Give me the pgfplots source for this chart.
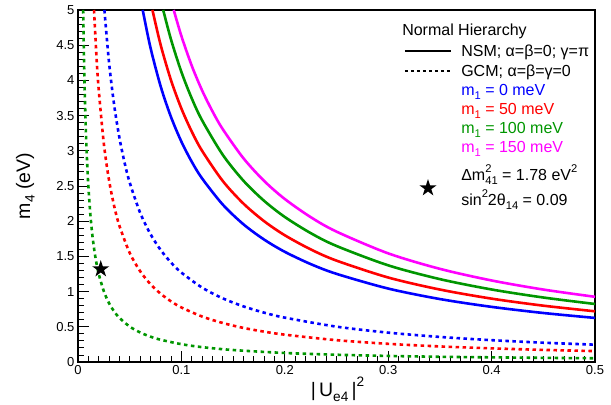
\documentclass[border=0pt]{standalone}
\usepackage{fontspec}
\setmainfont{Liberation Sans}
\usepackage{pgfplots}
\pgfplotsset{compat=1.18}

\definecolor{rblue}{RGB}{0,0,255}
\definecolor{rred}{RGB}{255,0,0}
\definecolor{rgreen}{RGB}{0,150,0}
\definecolor{rmag}{RGB}{255,0,255}

\newcommand{\sub}[1]{\raisebox{-0.45ex}{\scalebox{0.7}{#1}}}
\newcommand{\sups}[1]{\raisebox{0.95ex}{\scalebox{0.7}{#1}}}
\newcommand{\legfont}{\fontsize{16}{18}\selectfont}

% filled five-pointed star
\pgfdeclareplotmark{fstar}{%
  \pgfpathmoveto{\pgfpointpolar{90}{\pgfplotmarksize}}%
  \pgfpathlineto{\pgfpointpolar{126}{0.382*\pgfplotmarksize}}%
  \pgfpathlineto{\pgfpointpolar{162}{\pgfplotmarksize}}%
  \pgfpathlineto{\pgfpointpolar{198}{0.382*\pgfplotmarksize}}%
  \pgfpathlineto{\pgfpointpolar{234}{\pgfplotmarksize}}%
  \pgfpathlineto{\pgfpointpolar{270}{0.382*\pgfplotmarksize}}%
  \pgfpathlineto{\pgfpointpolar{306}{\pgfplotmarksize}}%
  \pgfpathlineto{\pgfpointpolar{342}{0.382*\pgfplotmarksize}}%
  \pgfpathlineto{\pgfpointpolar{18}{\pgfplotmarksize}}%
  \pgfpathlineto{\pgfpointpolar{54}{0.382*\pgfplotmarksize}}%
  \pgfpathclose
  \pgfusepathqfill}

\begin{document}
\begin{tikzpicture}
\begin{axis}[
  scale only axis,
  width=517pt, height=352pt,
  xmin=0, xmax=0.5, ymin=0, ymax=5,
  xtick={0,0.1,0.2,0.3,0.4,0.5},
  ytick={0,0.5,1,1.5,2,2.5,3,3.5,4,4.5,5},
  minor x tick num=9,
  minor y tick num=4,
  tick pos=left,
  tick align=inside,
  major tick length=11pt,
  minor tick length=6pt,
  every tick/.style={black, line width=0.9pt},
  axis line style={line width=1.5pt},
  /pgf/number format/assume math mode=true,
  tick label style={font=\fontsize{13}{13}\selectfont},
  xlabel={|\,U\sub{e4}\,|\sups{2}},
  ylabel={m\sub{4} (eV)},
  xlabel style={font=\fontsize{19.5}{20}\selectfont, at={(axis description cs:0.502,-0.077)}, anchor=center},
  ylabel style={font=\fontsize{19.5}{20}\selectfont, at={(axis description cs:-0.102,0.5)}, anchor=center},
  every axis plot/.style={line width=2.6pt, smooth},
  clip=true,
]

% NSM, solid
\addplot[rblue] coordinates {
  (0.0626,5.0) (0.07,4.471) (0.08,3.913) (0.09,3.478) (0.1,3.13) (0.11,2.845)
  (0.12,2.608) (0.14,2.236) (0.16,1.956) (0.18,1.739) (0.2,1.565) (0.225,1.391)
  (0.25,1.252) (0.3,1.043) (0.35,0.894) (0.4,0.783) (0.45,0.696) (0.5,0.626)
};
\addplot[rred] coordinates {
  (0.072,5.0) (0.08,4.5) (0.09,4.0) (0.1,3.6) (0.11,3.273) (0.12,3.0)
  (0.14,2.571) (0.16,2.25) (0.18,2.0) (0.2,1.8) (0.225,1.6) (0.25,1.44)
  (0.3,1.2) (0.35,1.029) (0.4,0.9) (0.45,0.8) (0.5,0.72)
};
\addplot[rgreen] coordinates {
  (0.0824,5.0) (0.09,4.578) (0.1,4.12) (0.11,3.745) (0.12,3.433) (0.14,2.943)
  (0.16,2.575) (0.18,2.289) (0.2,2.06) (0.225,1.831) (0.25,1.648) (0.3,1.373)
  (0.35,1.177) (0.4,1.03) (0.45,0.916) (0.5,0.824)
};
\addplot[rmag] coordinates {
  (0.0926,5.0) (0.1,4.63) (0.11,4.209) (0.12,3.858) (0.13,3.562) (0.14,3.307)
  (0.16,2.894) (0.18,2.572) (0.2,2.315) (0.225,2.058) (0.25,1.852) (0.3,1.543)
  (0.35,1.323) (0.4,1.158) (0.45,1.029) (0.5,0.926)
};

% GCM, dotted
\addplot[rblue, dash pattern=on 3.5pt off 3.5pt] coordinates {
  (0.02555,5.0) (0.03,4.257) (0.035,3.647) (0.04,3.19) (0.045,2.834) (0.05,2.55)
  (0.06,2.123) (0.07,1.819) (0.08,1.59) (0.09,1.412) (0.1,1.27) (0.12,1.057)
  (0.14,0.904) (0.16,0.79) (0.18,0.701) (0.2,0.63) (0.25,0.502) (0.3,0.417)
  (0.35,0.356) (0.4,0.31) (0.45,0.274) (0.5,0.246)
};
\addplot[rred, dash pattern=on 3.5pt off 3.5pt] coordinates {
  (0.0155,5.0) (0.018,4.306) (0.02,3.875) (0.025,3.1) (0.03,2.583) (0.035,2.214)
  (0.04,1.938) (0.05,1.55) (0.06,1.292) (0.07,1.107) (0.08,0.969) (0.09,0.861)
  (0.1,0.775) (0.12,0.646) (0.14,0.554) (0.16,0.484) (0.18,0.431) (0.2,0.388)
  (0.25,0.31) (0.3,0.258) (0.35,0.221) (0.4,0.194) (0.45,0.172) (0.5,0.155)
};
\addplot[rgreen, dash pattern=on 3.5pt off 3.5pt] coordinates {
  (0.005,5.0) (0.006,4.17) (0.007,3.574) (0.008,3.128) (0.009,2.781) (0.01,2.503)
  (0.012,2.086) (0.014,1.789) (0.016,1.566) (0.018,1.392) (0.02,1.253) (0.025,1.003)
  (0.03,0.836) (0.035,0.717) (0.04,0.628) (0.05,0.503) (0.06,0.42) (0.07,0.36)
  (0.08,0.316) (0.1,0.253) (0.12,0.211) (0.15,0.17) (0.2,0.128) (0.25,0.103)
  (0.3,0.086) (0.35,0.074) (0.4,0.066) (0.45,0.059) (0.5,0.053)
};

% stars
\addplot[only marks, mark=fstar, mark size=9pt, black] coordinates {
  (0.022,1.32) (0.3385,2.47)
};

% legend
\node[anchor=base west, inner sep=0pt, font=\legfont] at (axis cs:0.3134,4.638) {Normal Hierarchy};
\draw[line width=2.2pt] (axis cs:0.3162,4.418) -- (axis cs:0.3607,4.418);
\node[anchor=base west, inner sep=0pt, font=\legfont] at (axis cs:0.3705,4.34) {NSM; α=β=0; γ=π};
\draw[line width=2.2pt, dash pattern=on 3pt off 3pt] (axis cs:0.3162,4.138) -- (axis cs:0.3607,4.138);
\node[anchor=base west, inner sep=0pt, font=\legfont] at (axis cs:0.3705,4.062) {GCM; α=β=γ=0};
\node[anchor=base west, inner sep=0pt, font=\legfont, text=rblue] at (axis cs:0.3705,3.786) {m\sub{1} = 0 meV};
\node[anchor=base west, inner sep=0pt, font=\legfont, text=rred] at (axis cs:0.3705,3.516) {m\sub{1} = 50 meV};
\node[anchor=base west, inner sep=0pt, font=\legfont, text=rgreen] at (axis cs:0.3705,3.246) {m\sub{1} = 100 meV};
\node[anchor=base west, inner sep=0pt, font=\legfont, text=rmag] at (axis cs:0.3705,2.976) {m\sub{1} = 150 meV};
\node[anchor=base west, inner sep=0pt, font=\legfont] at (axis cs:0.3705,2.578) {Δm\rlap{\sups{2}}\sub{41} = 1.78 eV\sups{2}};
\node[anchor=base west, inner sep=0pt, font=\legfont] at (axis cs:0.3705,2.223) {sin\sups{2}2θ\sub{14} = 0.09};
\end{axis}
\pgfresetboundingbox
\path ([shift={(-78pt,-43pt)}]current axis.south west) rectangle ([shift={(16pt,10pt)}]current axis.north east);
\end{tikzpicture}
\end{document}
